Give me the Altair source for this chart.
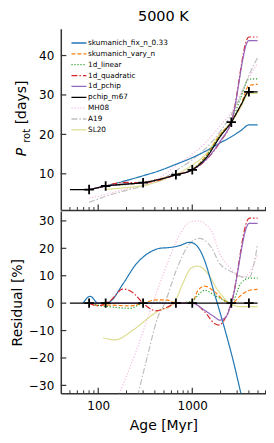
import altair as alt
import pandas as pd

# ---------------- data ----------------
SERIES = ["skumanich_fix_n_0.33", "skumanich_vary_n", "1d_linear", "1d_quadratic",
          "1d_pchip", "pchip_m67", "MH08", "A19", "SL20"]
COLORS = ["#1f77b4", "#ff7f0e", "#2ca02c", "#d62728", "#9467bd", "#000000",
          "#f1bbe1", "#bfbfbf", "#dddd90"]
DASHES = [[1, 0], [4, 2], [1.2, 1.8], [6, 2, 1.5, 2], [1, 0], [1, 0],
          [1.2, 1.8], [6, 2, 1.5, 2], [1, 0]]
WIDTHS = [1.2, 1.2, 1.3, 1.2, 1.2, 1.6, 1.3, 1.2, 1.3]
DRAW_ORDER = ["MH08", "A19", "SL20", "skumanich_fix_n_0.33", "skumanich_vary_n",
              "1d_linear", "1d_quadratic", "1d_pchip", "pchip_m67"]

CLUSTER_AGE = [80, 120, 300, 670, 1000, 2600, 4000]
CLUSTER_PROT = [6.0, 6.9, 7.75, 9.75, 11.0, 23.1, 30.8]

AGE_GRID = [50, 80, 100, 120, 150, 200, 300, 450, 670, 1000, 1400, 2000, 2600, 3300, 4000, 4950]
P_SKU_FIX = [None, 6.0, 6.5, 6.9, 7.5, 8.3, 9.5, 10.8, 12.4, 14.1, 15.8, 17.9, 19.4, 21.0, 22.4, 22.4]
P_SKU_VARY = [None, 6.0, 6.45, 6.9, 7.1, 7.35, 7.75, 8.7, 9.75, 11.05, 14.5, 20.0, 23.1, 27.6, 32.4, 32.7]
P_LINEAR = [None, 6.0, 6.45, 6.9, 7.05, 7.25, 7.75, 8.65, 9.75, 11.1, 14.4, 19.9, 23.1, 29.5, 34.0, 34.1]
P_QUAD = [None, 6.0, 6.45, 6.9, 7.5, 7.8, 7.75, 8.4, 9.75, 11.0, 13.5, 18.2, 23.1, None, 44.7, 44.7]
P_PCHIP = [None, 6.0, 6.5, 6.9, 7.15, 7.4, 7.75, 8.6, 9.75, 11.0, 13.6, 18.4, 23.1, None, 43.8, 43.8]
P_M67 = [6.0, 6.0, 6.5, 6.9, 7.15, 7.4, 7.75, 8.6, 9.75, 11.0, 14.0, 19.6, 23.1, 27.5, 30.8, 30.8]
P_MH08 = [None, 3.8, 4.3, 4.8, 5.4, 6.1, 7.2, 9.0, 12.0, 15.0, 18.0, 22.3, 25.7, 30.5, 34.5, 38.0]
P_A19 = [None, 2.8, 3.6, 4.3, 5.0, 5.8, 6.9, 8.3, 10.8, 13.6, 16.5, 20.9, 25.0, 30.0, 35.0, 39.5]
P_SL20 = [None, None, None, 6.0, 6.2, 6.5, 7.0, 8.2, 9.8, 12.2, 15.0, 20.3, 23.1, 27.0, 30.4, 30.4]

R_FIX_AGE = [69, 82, 100, 120, 133, 184, 255, 300, 383, 450, 575, 735, 935, 1040, 1200, 1350, 1720, 2180, 2760, 3320]
R_FIX = [0, 2.5, 0, 0, 0.5, 7.1, 14.4, 16.8, 19.2, 20.0, 20.3, 21.0, 22.2, 21.8, 19.5, 15.6, 3.5, -8.6, -21.8, -33.6]
R_VARY_AGE = [80, 100, 133, 217, 300, 415, 530, 676, 1000, 1150, 1350, 1720, 2180, 2600, 3300, 4030, 4950]
R_VARY = [0, -0.8, -0.7, -1.0, 0, 1.2, 1.2, 0, 0.4, 4.7, 6.2, 4.2, 1.0, 0, 2.9, 4.7, 5.0]
R_LIN_AGE = [80, 100, 133, 217, 300, 450, 676, 1000, 1150, 1350, 1720, 2180, 2600, 3300, 4030, 4950]
R_LIN = [0, -0.8, -1.3, -1.9, 0, 0.3, 0, 0.8, 2.9, 4.7, 2.9, 1.0, 0, 7.3, 9.1, 9.1]
R_QUAD_AGE = [80, 100, 120, 133, 184, 240, 300, 415, 540, 676, 1000, 1350, 1720, 1940, 2180, 2600, 4030, 4950]
R_QUAD = [0, -1.0, 0, 0.8, 5.2, 3.5, 0, -2.8, -1.5, 0, 0, -3.1, -7.4, -8.0, -6.2, 0, 31.0, 31.0]
R_PCHIP_AGE = [80, 1000, 1350, 1720, 1960, 2290, 2600, 4030, 4950]
R_PCHIP = [0, 0, -2.6, -5.0, -6.2, -5.0, 0, 29.1, 29.1]
R_M67_AGE = [50, 4950]
R_M67 = [0, 0]
R_MH08_AGE = [163, 250, 380, 509, 575, 764, 935, 1150, 1590, 1960, 2500, 2910, 3450, 4030, 4950]
R_MH08 = [-34, -18, 0, 12, 16.8, 26, 29.5, 30, 26.4, 18, 13, 10.8, 9.5, 11, 18]
R_A19_AGE = [262, 330, 432, 510, 676, 935, 1190, 1590, 1960, 2680, 3450, 4030, 4950]
R_A19 = [-34, -20, -5, 0, 12, 21.6, 23.6, 20.4, 14.4, 11.3, 9.5, 9.5, 21.6]
R_SL20_AGE = [113, 150, 235, 353, 450, 575, 676, 800, 975, 1150, 1460, 1870, 2500, 3300, 4950]
R_SL20 = [-12.6, -13.4, -9.8, -5, -2.5, -1.3, 1.5, 7.5, 12.8, 13.5, 10.8, 4.7, 0, -1.3, -1.3]

YTICK_TOP = [10, 20, 30, 40]
YTICK_BOT = [-30, -20, -10, 0, 10, 20, 30]
XTICK_MAJOR = [100, 1000]
XTICK_MINOR = [50, 60, 70, 80, 90, 200, 300, 400, 500, 600, 700, 800, 900,
               2000, 3000, 4000, 5000, 6000]

# ---------------- tables ----------------
top_vals = {"skumanich_fix_n_0.33": P_SKU_FIX, "skumanich_vary_n": P_SKU_VARY,
            "1d_linear": P_LINEAR, "1d_quadratic": P_QUAD, "1d_pchip": P_PCHIP,
            "pchip_m67": P_M67, "MH08": P_MH08, "A19": P_A19, "SL20": P_SL20}
bot_vals = {"skumanich_fix_n_0.33": (R_FIX_AGE, R_FIX), "skumanich_vary_n": (R_VARY_AGE, R_VARY),
            "1d_linear": (R_LIN_AGE, R_LIN), "1d_quadratic": (R_QUAD_AGE, R_QUAD),
            "1d_pchip": (R_PCHIP_AGE, R_PCHIP), "pchip_m67": (R_M67_AGE, R_M67),
            "MH08": (R_MH08_AGE, R_MH08), "A19": (R_A19_AGE, R_A19), "SL20": (R_SL20_AGE, R_SL20)}

top_rows, bot_rows = [], []
for s in DRAW_ORDER:
    for a, p in zip(AGE_GRID, top_vals[s]):
        if p is not None:
            top_rows.append({"series": s, "age": a, "P": p})
    ages, rs = bot_vals[s]
    for a, r in zip(ages, rs):
        bot_rows.append({"series": s, "age": a, "r": r})
top_df = pd.DataFrame(top_rows)
bot_df = pd.DataFrame(bot_rows)
cl_df = pd.DataFrame({"age": CLUSTER_AGE, "P": CLUSTER_PROT, "r": [0] * len(CLUSTER_AGE)})
leg_df = pd.DataFrame({"series": SERIES, "row": list(range(len(SERIES)))})

# ---------------- layout constants ----------------
W, H_TOP, H_BOT = 206, 182, 183
SPINE = "#333333"
FONT = "DejaVu Sans"
PLUS = "M-1,0H1M0,-1V1"

x_scale = alt.Scale(type="log", domain=[40, 6080], nice=False)
yt_scale = alt.Scale(domain=[0.8, 46.8], nice=False, zero=False)
yb_scale = alt.Scale(domain=[-32.9, 33.6], nice=False, zero=False)
leg_scale = alt.Scale(domain=[0, len(SERIES) - 1], range=[14.3, 14.3 + 10.9 * (len(SERIES) - 1)])

x_axis_top = alt.Axis(labels=False, ticks=False, tickSize=0, title=None, grid=False)
x_axis_bot = alt.Axis(values=XTICK_MAJOR, format="d", ticks=False, tickSize=0,
                      labelPadding=7, title="Age [Myr]", titleX=103, titleY=36.5,
                      titleBaseline="alphabetic", grid=False)
y_axis_top = alt.Axis(values=YTICK_TOP, ticks=False, tickSize=0, labelPadding=7,
                      title=None, grid=False)
y_axis_bot = alt.Axis(values=YTICK_BOT, ticks=False, tickSize=0, labelPadding=7,
                      title="Residual [%]", titleX=-39.5, titleY=91.5, titleAngle=270,
                      titleBaseline="alphabetic", titleAlign="center", grid=False)

style = dict(
    color=alt.Color("series:N", scale=alt.Scale(domain=SERIES, range=COLORS), legend=None),
    strokeDash=alt.StrokeDash("series:N", scale=alt.Scale(domain=SERIES, range=DASHES), legend=None),
    strokeWidth=alt.StrokeWidth("series:N", scale=alt.Scale(domain=SERIES, range=WIDTHS), legend=None),
)


def tick_layers(yvals, yscale, yaxis, xaxis, h):
    yt = alt.Chart(pd.DataFrame({"v": yvals})).mark_rule(color=SPINE, strokeWidth=1.2).encode(
        y=alt.Y("v:Q", scale=yscale, axis=yaxis), x=alt.value(0), x2=alt.value(5.5))
    xmaj = alt.Chart(pd.DataFrame({"v": XTICK_MAJOR})).mark_rule(color=SPINE, strokeWidth=1.2).encode(
        x=alt.X("v:Q", scale=x_scale, axis=xaxis), y=alt.value(h), y2=alt.value(h - 5.5))
    xmin = alt.Chart(pd.DataFrame({"v": XTICK_MINOR})).mark_rule(color=SPINE, strokeWidth=1).encode(
        x=alt.X("v:Q", scale=x_scale, axis=xaxis), y=alt.value(h), y2=alt.value(h - 3))
    return [yt, xmaj, xmin]


# ---------------- top panel ----------------
top_lines = alt.Chart(top_df).mark_line(interpolate="monotone", clip=True).encode(
    x=alt.X("age:Q", scale=x_scale, axis=x_axis_top),
    y=alt.Y("P:Q", scale=yt_scale, axis=y_axis_top),
    **style)
top_pts = alt.Chart(cl_df).mark_point(shape=PLUS, size=90, strokeWidth=1.8, color="black",
                                      filled=False, opacity=1).encode(
    x=alt.X("age:Q", scale=x_scale, axis=x_axis_top), y=alt.Y("P:Q", scale=yt_scale, axis=None))

leg_sym = alt.Chart(leg_df).mark_rule(strokeWidth=1.3).encode(
    y=alt.Y("row:Q", scale=leg_scale, axis=None),
    x=alt.value(10.7), x2=alt.value(25.7),
    color=style["color"], strokeDash=style["strokeDash"])
leg_txt = alt.Chart(leg_df).mark_text(align="left", baseline="middle", font=FONT,
                                      fontSize=7.3, color="black").encode(
    y=alt.Y("row:Q", scale=leg_scale, axis=None), x=alt.value(27.4), text="series:N")

title_p = alt.Chart(pd.DataFrame({"t": ["P"]})).mark_text(
    angle=270, align="left", baseline="alphabetic", font=FONT, fontSize=14,
    fontStyle="italic", color="black").encode(text="t:N", x=alt.value(-34.5), y=alt.value(128))
title_rot = alt.Chart(pd.DataFrame({"t": ["rot"]})).mark_text(
    angle=270, align="left", baseline="alphabetic", font=FONT, fontSize=10,
    color="black").encode(text="t:N", x=alt.value(-31), y=alt.value(114.5))
title_days = alt.Chart(pd.DataFrame({"t": ["[days]"]})).mark_text(
    angle=270, align="left", baseline="alphabetic", font=FONT, fontSize=14,
    color="black").encode(text="t:N", x=alt.value(-34.5), y=alt.value(96))

top = alt.layer(
    top_lines, *tick_layers(YTICK_TOP, yt_scale, None, x_axis_top, H_TOP), top_pts,
    leg_sym, leg_txt, title_p, title_rot, title_days
).resolve_scale(y="independent").properties(
    width=W, height=H_TOP,
    title=alt.TitleParams("5000 K", offset=4, anchor="middle", font=FONT,
                          fontSize=14.5, fontWeight="normal", color="black"))

# ---------------- bottom panel ----------------
bot_lines = alt.Chart(bot_df).mark_line(interpolate="monotone", clip=True).encode(
    x=alt.X("age:Q", scale=x_scale, axis=x_axis_bot),
    y=alt.Y("r:Q", scale=yb_scale, axis=y_axis_bot),
    **style)
bot_pts = alt.Chart(cl_df).mark_point(shape=PLUS, size=90, strokeWidth=1.8, color="black",
                                      filled=False, opacity=1).encode(
    x=alt.X("age:Q", scale=x_scale, axis=x_axis_bot), y=alt.Y("r:Q", scale=yb_scale, axis=y_axis_bot))

bottom = alt.layer(
    bot_lines, *tick_layers(YTICK_BOT, yb_scale, y_axis_bot, x_axis_bot, H_BOT), bot_pts
).properties(width=W, height=H_BOT)

chart = alt.vconcat(top, bottom, spacing=1, bounds="flush",
                    padding={"left": 2, "top": 0, "right": 0, "bottom": 0}).configure_view(
    stroke=None).configure_axis(
    labelFont=FONT, labelFontSize=12, labelColor="black",
    titleFont=FONT, titleFontSize=14, titleFontWeight="normal", titleColor="black",
    domainColor=SPINE, domainWidth=1.5, grid=False)

chart.save("out.html", embed_options={"renderer": "svg", "actions": False})
